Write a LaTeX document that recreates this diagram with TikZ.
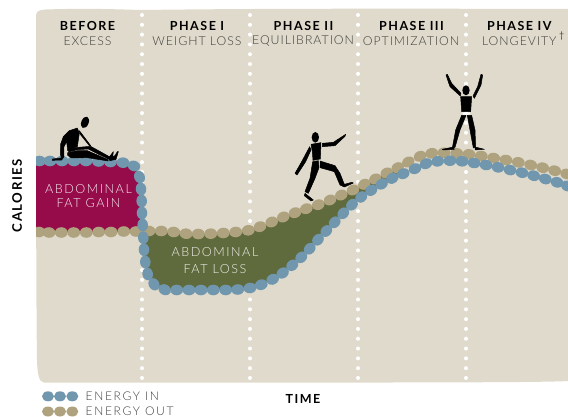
\documentclass[tikz,border=0pt]{standalone}
\usepackage{fontspec}
\setmainfont{Lato}
\newfontfamily\headf[LetterSpace=12]{Lato}
\newfontfamily\subf[LetterSpace=8]{Lato Light}
\newfontfamily\legf[LetterSpace=14]{Lato Light}
\newfontfamily\blobf[LetterSpace=12]{Lato Light}
\definecolor{bg}{HTML}{DFDACB}
\definecolor{beadin}{HTML}{7197AE}
\definecolor{beadout}{HTML}{AFA27E}
\definecolor{gainred}{HTML}{960B4A}
\definecolor{lossgreen}{HTML}{5F6B3C}
\definecolor{subgrey}{HTML}{3F3E3A}
\tikzset{
  head/.style={font=\headf\bfseries\fontsize{12.5}{14}\selectfont,text=black,inner sep=0pt},
  sub/.style={font=\subf\fontsize{12.3}{14}\selectfont,text=subgrey,inner sep=0pt},
  blob/.style={font=\blobf\fontsize{12.6}{15}\selectfont,inner sep=0pt},
  legendtext/.style={font=\legf\fontsize{12}{14}\selectfont,text=subgrey,inner sep=0pt,anchor=west},
  sil/.style={fill=black,draw=black,line width=0.5pt,line join=round}
}
\newcommand{\beadrow}[3]{%
  \foreach \x/\y [remember=\x as \px (initially #1), remember=\y as \py (initially #2)] in {#3}{%
    \pgfmathsetmacro{\ang}{atan2(-(\y-\py),\x-\px)}%
    \fill[shift={(\x,\y)},rotate=\ang] (0,0) ellipse [x radius=6.4pt,y radius=5.3pt];
  }}
\begin{document}
\begin{tikzpicture}[x=1pt,y=-1pt]
\useasboundingbox (0,0) rectangle (568,417);
% background
\fill[bg] (36,16) .. controls (36,11) and (39,10) .. (46,9.5)
  .. controls (90,8) and (120,9.5) .. (142,10)
  .. controls (250,8.5) and (400,8.5) .. (568,9)
  -- (568,381) .. controls (540,383) and (300,382.5) .. (44,382.5)
  .. controls (39,382) and (37.5,375) .. (37,360)
  .. controls (36,300) and (36,100) .. (36,16) -- cycle;
% dotted lines
\foreach \lx in {142,250,358,466}{
  \foreach \k in {0,...,37}{
    \fill[white] (\lx,15+\k*9.81) circle [radius=2pt];
  }
}
% red blob
\fill[gainred] (36,161) -- (123,161) -- (134,166) -- (139.5,177) -- (141,189) -- (142,213) -- (142,232) -- (36,232) -- cycle;
% green blob
\fill[lossgreen] (143,231) -- (149,231) -- (173.7,232) -- (198.3,234) -- (223.3,233) -- (248.3,230.3) -- (260,226.7) -- (271.7,222) -- (283.3,217) -- (295,212.7) -- (306.3,208.7) -- (318.3,204.7) -- (330,200) -- (341.3,195) -- (353,190) -- (364.3,184.3) -- (375.3,179) -- (386.7,173) -- (397.7,167.7) -- (403.3,173.7) -- (392.3,178.3) -- (381.7,184) -- (371.3,190.3) -- (361.3,197) -- (352,204.7) -- (343.3,213.3) -- (334.7,222.3) -- (326.3,231) -- (318,239.7) -- (309.7,248.7) -- (301.3,257.3) -- (292.3,265.3) -- (282.7,273) -- (272.7,279.3) -- (261.3,284.7) -- (250,288) -- (213,290) -- (164.7,289.7) -- (154,284.3) -- (147.7,274) -- (145.3,262) -- (144,249.7) -- cycle;
% beads
\begin{scope}
\clip (36,0) rectangle (568,417);
\begin{scope}[beadout]
\beadrow{27}{232}{39/232,49/232.5,61.3/232.5,73.7/232.5,86.3/232.5,98.7/232,111/232,123.7/231.5,136/231.5,149/231,161.3/231,173.7/232,186/233.7,198.3/234,210.7/233.7,223.3/233,235.7/232,248.3/230.3,260/226.7,271.7/222,283.3/217,295/212.7,306.3/208.7,318.3/204.7,330/200,341.3/195,353/190,364.3/184.3,375.3/179,386.7/173,397.7/167.7,408.3/162,420/156.3,431.7/153.3,444/152.7,456.7/153.3,469/154.3,481.3/156,493.7/158,506/160,518.3/162.3,530.7/165,542.7/167.7,554.7/170.7,566.7/174}
\end{scope}
\begin{scope}[beadin]
\beadrow{28}{161}{39.5/161,50/161,62/161,74/161,86/161,98.5/161.5,110.5/162,123/162.7,134/166,139.5/177,141/189,141.7/201,142/213,142.7/225,143.3/237.7,144/249.7,145.3/262,147.7/274,154/284.3,164.7/289.7,176.7/290,189/290,201/290,213.3/290,225.7/290,237.7/289.5,250/288,261.3/284.7,272.7/279.3,282.7/273,292.3/265.3,301.3/257.3,309.7/248.7,318/239.7,326.3/231,334.7/222.3,343.3/213.3,352/204.7,361.3/197,371.3/190.3,381.7/184,392.3/178.3,403.3/173.7,415/168.7,426/163.7,437.7/161.3,450/160.7,462/161.3,474/163,486/165,498/167.3,510/170,522/172.7,533.7/175.7,545.3/179,557/182.3,567.3/186}
\end{scope}
\end{scope}
% sitting figure
\begin{scope}[scale=1/3]
\fill[black,rotate around={-22:(255,367)}] (255,367) ellipse [x radius=11,y radius=18];
\path[sil] (232,384) -- (208,392) -- (190,410) -- (182,432) -- (181,462) -- (184,474) -- (158,477) -- (157,481) -- (185,480) -- (192,470) -- (192,440) -- (200,425) -- (203,452) -- (232,440) -- (238,400) -- cycle;
\path[sil] (238,392) -- (248,405) -- (272,437) -- (268,437) -- (240,402) -- cycle;
\path[sil] (205,448) -- (235,442) -- (272,439) -- (328,470) -- (333,480) -- (300,465) -- (265,447) -- (232,449) -- (206,456) -- cycle;
\path[sil] (203,458) -- (232,452) -- (262,452) -- (322,478) -- (325,483) -- (262,473) -- (215,474) -- (203,466) -- cycle;
\path[sil] (325,475) -- (340,455) -- (338,470) -- (345,467) -- (352,455) -- (355,455) -- (348,478) -- (330,482) -- cycle;
\end{scope}
% running figure
\begin{scope}[shift={(285,125)},scale=1/3]
\fill[black] (91,37) ellipse [x radius=11,y radius=16];
\path[sil] (78,58) -- (108,53) -- (106,102) -- (84,106) -- (82,80) -- cycle;
\path[sil] (74,65) -- (50,110) -- (30,145) -- (36,150) -- (62,110) -- (78,75) -- cycle;
\path[sil] (112,55) -- (145,52) -- (182,28) -- (180,34) -- (150,62) -- (112,65) -- cycle;
\path[sil] (83,110) -- (100,107) -- (102,128) -- (90,160) -- (70,205) -- (60,200) -- (75,160) -- cycle;
\path[sil] (60,205) -- (85,225) -- (78,228) -- (58,212) -- cycle;
\path[sil] (105,108) -- (150,122) -- (165,145) -- (178,178) -- (200,172) -- (205,174) -- (178,186) -- (165,180) -- (148,140) -- (105,128) -- cycle;
\end{scope}
% standing figure
\begin{scope}[shift={(435,70)},scale=1/3]
\fill[black] (93,61) ellipse [x radius=11,y radius=15];
\path[sil] (77,80) -- (110,80) -- (107,125) -- (80,125) -- cycle;
\path[sil] (76,78) -- (45,50) -- (33,15) -- (37,13) -- (50,40) -- (78,70) -- cycle;
\path[sil] (114,78) -- (128,50) -- (138,13) -- (143,15) -- (138,45) -- (118,85) -- cycle;
\fill[white] (81,128) -- (106,128) -- (103,134) -- (84,134) -- cycle;
\path[sil] (80,136) -- (93,136) -- (75,180) -- (60,232) -- (52,234) -- (62,180) -- cycle;
\path[sil] (22,238) -- (55,231) -- (58,238) -- (25,240) -- cycle;
\path[sil] (97,136) -- (110,136) -- (120,180) -- (122,232) -- (115,234) -- (105,180) -- cycle;
\path[sil] (120,231) -- (148,238) -- (120,240) -- cycle;
\end{scope}
% headers
\node[head] (h0) at (87.5,26) {BEFORE};
\node[sub] (s0) at (87.5,40.7) {EXCESS};
\node[head] (h1) at (197,26) {PHASE I};
\node[sub] (s1) at (197,40.7) {WEIGHT LOSS};
\node[head] (h2) at (303.5,26) {PHASE II};
\node[sub] (s2) at (303,40.7) {EQUILIBRATION};
\node[head] (h3) at (411.5,26) {PHASE III};
\node[sub] (s3) at (411,40.7) {OPTIMIZATION};
\node[head] (h4) at (519.3,26) {PHASE IV};
\node[sub] (s4) at (519.3,40.7) {LONGEVITY};
\node[sub,font=\fontsize{9}{10}\selectfont] (dag) at (561.7,36) {†};
% blob labels
\node[blob,text=white!90!gainred] (g1) at (88.5,189) {ABDOMINAL};
\node[blob,text=white!90!gainred] (g2) at (88.5,203) {FAT GAIN};
\node[blob,text=white!90!lossgreen] (l1) at (215,252) {ABDOMINAL};
\node[blob,text=white!90!lossgreen] (l2) at (215,268.7) {FAT LOSS};
% axes
\node[head] (xa) at (303,399.3) {TIME};
\node[head,rotate=90,font=\headf\bfseries\fontsize{13.2}{14}\selectfont] (ya) at (17,195.5) {CALORIES};
% legend
\foreach \lx in {48,60,72.3}{
  \fill[beadin] (\lx,396.3) ellipse [x radius=6pt,y radius=5pt];
  \fill[beadout] (\lx,411.5) ellipse [x radius=6pt,y radius=5pt];
}
\node[legendtext] (lin) at (85.5,396.5) {ENERGY IN};
\node[legendtext] (lout) at (85.5,411) {ENERGY OUT};
\end{tikzpicture}
\end{document}
